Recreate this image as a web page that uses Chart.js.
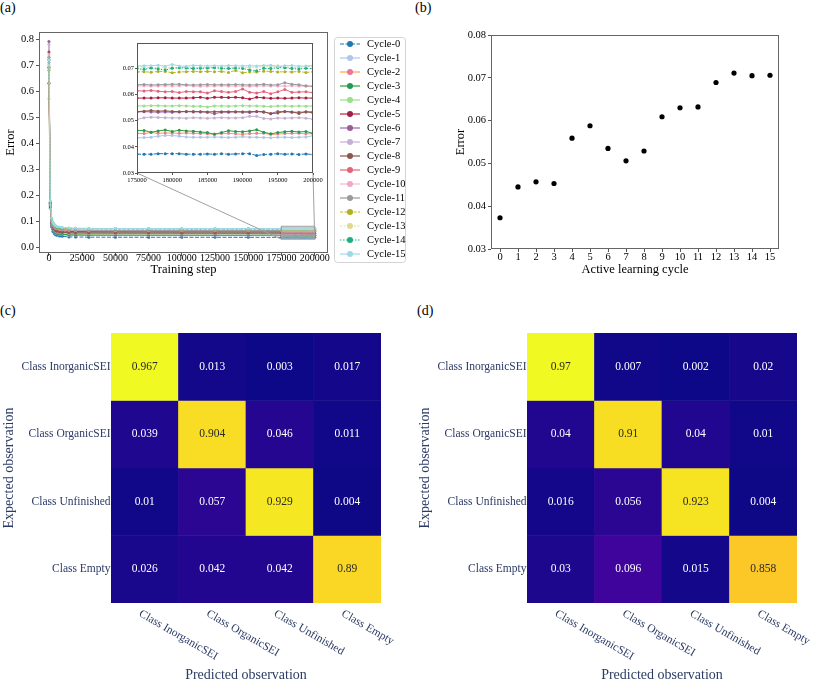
<!DOCTYPE html>
<html>
<head>
<meta charset="utf-8">
<script src="https://cdn.jsdelivr.net/npm/chart.js@4.4.1/dist/chart.umd.min.js"></script>
<style>
  html, body { margin: 0; padding: 0; background: #fff; overflow: hidden; }
  #fig { position: relative; width: 813px; height: 682px; overflow: hidden; }
  #fig canvas { position: absolute; }
  .tag { position: absolute; font-family: 'Liberation Serif', serif; font-size: 14px; line-height: 1; color: #000; }
</style>
</head>
<body>
<div id="fig">
  <div class="tag" style="left:0;top:1px">(a)</div>
  <div class="tag" style="left:415px;top:1px">(b)</div>
  <div class="tag" style="left:0;top:304px">(c)</div>
  <div class="tag" style="left:417px;top:304px">(d)</div>
  <canvas id="main" style="left:0;top:0" width="415" height="280"></canvas>
  <canvas id="inset" style="left:100px;top:36px" width="230" height="155"></canvas>
  <canvas id="cycles" style="left:415px;top:0" width="398" height="280"></canvas>
  <canvas id="cmC" style="left:0;top:290px" width="405" height="394"></canvas>
  <canvas id="cmD" style="left:405px;top:290px" width="408" height="394"></canvas>
</div>
<script>
Chart.defaults.font.family = "'Liberation Serif', 'DejaVu Serif', serif"
Chart.defaults.color = '#000000'

// ---- (a) training curves ----
const cycleNames = ['Cycle-0', 'Cycle-1', 'Cycle-2', 'Cycle-3', 'Cycle-4', 'Cycle-5', 'Cycle-6', 'Cycle-7',
    'Cycle-8', 'Cycle-9', 'Cycle-10', 'Cycle-11', 'Cycle-12', 'Cycle-13', 'Cycle-14', 'Cycle-15']

const earlySteps = [0, 1000, 2000, 3000, 4000, 5000, 6000, 8000, 10000, 15000, 20000, 30000, 50000, 75000, 100000, 125000, 150000]
const lateSteps = [175000, 176000, 177000, 178000, 179000, 180000, 181000, 182000, 183000, 184000, 185000, 186000, 187000,
    188000, 189000, 190000, 191000, 192000, 193000, 194000, 195000, 196000, 197000, 198000, 199000, 200000]

// error at earlySteps, one row per cycle
const earlyError = [
    [0.69, 0.150, 0.078, 0.060, 0.052, 0.047, 0.045, 0.042, 0.041, 0.039, 0.0385, 0.038, 0.0377, 0.0375, 0.0374, 0.0374, 0.0373],
    [0.70, 0.152, 0.084, 0.066, 0.058, 0.053, 0.051, 0.048, 0.047, 0.045, 0.0446, 0.0443, 0.0440, 0.0439, 0.0438, 0.0437, 0.0437],
    [0.72, 0.160, 0.086, 0.068, 0.060, 0.055, 0.052, 0.050, 0.048, 0.0466, 0.046, 0.0457, 0.0455, 0.0454, 0.0453, 0.0452, 0.0452],
    [0.73, 0.158, 0.086, 0.068, 0.060, 0.055, 0.053, 0.050, 0.049, 0.047, 0.0466, 0.0462, 0.0460, 0.0459, 0.0459, 0.0458, 0.0458],
    [0.57, 0.165, 0.095, 0.078, 0.070, 0.066, 0.063, 0.060, 0.059, 0.057, 0.0565, 0.0562, 0.0560, 0.0559, 0.0558, 0.0557, 0.0557],
    [0.63, 0.168, 0.098, 0.081, 0.073, 0.069, 0.066, 0.063, 0.062, 0.060, 0.0596, 0.0592, 0.0590, 0.0589, 0.0588, 0.0588, 0.0587],
    [0.79, 0.150, 0.092, 0.075, 0.068, 0.063, 0.060, 0.058, 0.056, 0.0545, 0.054, 0.0537, 0.0535, 0.0534, 0.0534, 0.0533, 0.0533],
    [0.78, 0.148, 0.090, 0.073, 0.065, 0.061, 0.058, 0.055, 0.054, 0.052, 0.0518, 0.0515, 0.0513, 0.0512, 0.0511, 0.0510, 0.0510],
    [0.75, 0.155, 0.092, 0.075, 0.068, 0.063, 0.061, 0.058, 0.056, 0.0548, 0.0543, 0.054, 0.0538, 0.0537, 0.0536, 0.0535, 0.0535],
    [0.69, 0.162, 0.100, 0.083, 0.076, 0.071, 0.069, 0.066, 0.065, 0.063, 0.0624, 0.062, 0.0617, 0.0615, 0.0614, 0.0613, 0.0613],
    [0.74, 0.165, 0.102, 0.085, 0.078, 0.073, 0.071, 0.068, 0.067, 0.065, 0.0645, 0.064, 0.0637, 0.0635, 0.0634, 0.0634, 0.0633],
    [0.71, 0.163, 0.103, 0.086, 0.079, 0.074, 0.071, 0.069, 0.067, 0.0655, 0.065, 0.0645, 0.0642, 0.064, 0.0639, 0.0638, 0.0638],
    [0.68, 0.170, 0.108, 0.091, 0.084, 0.079, 0.076, 0.074, 0.072, 0.0705, 0.070, 0.0695, 0.0691, 0.0689, 0.0688, 0.0688, 0.0687],
    [0.70, 0.175, 0.110, 0.093, 0.086, 0.081, 0.078, 0.076, 0.074, 0.0725, 0.072, 0.0714, 0.0710, 0.0708, 0.0707, 0.0706, 0.0706],
    [0.72, 0.172, 0.110, 0.092, 0.085, 0.080, 0.077, 0.075, 0.073, 0.0718, 0.0712, 0.0707, 0.0704, 0.0702, 0.0701, 0.0700, 0.0700],
    [0.72, 0.178, 0.112, 0.094, 0.087, 0.082, 0.079, 0.077, 0.075, 0.073, 0.0722, 0.0717, 0.0714, 0.0712, 0.0711, 0.0710, 0.0710]
]

// error at lateSteps (the zoomed window), one row per cycle
const lateError = [
    [0.0372, 0.0372, 0.0372, 0.0374, 0.0374, 0.0374, 0.0374, 0.0372, 0.0372, 0.0372, 0.0373, 0.0372, 0.0374, 0.0372, 0.0373, 0.0374, 0.0374, 0.0367, 0.0371, 0.0372, 0.0374, 0.0372, 0.0373, 0.0371, 0.0373, 0.0371],
    [0.0434, 0.0436, 0.0437, 0.0441, 0.0444, 0.0444, 0.0441, 0.0438, 0.0437, 0.0437, 0.0437, 0.0438, 0.0437, 0.0436, 0.0437, 0.0439, 0.0437, 0.0437, 0.0436, 0.0435, 0.0437, 0.0437, 0.0436, 0.0437, 0.0438, 0.0443],
    [0.0452, 0.0451, 0.0455, 0.0452, 0.0453, 0.0453, 0.0452, 0.0453, 0.0452, 0.0451, 0.0450, 0.0449, 0.0451, 0.0452, 0.0450, 0.0448, 0.0451, 0.0452, 0.0452, 0.0448, 0.0449, 0.0451, 0.0452, 0.0452, 0.0450, 0.0451],
    [0.0463, 0.0463, 0.0456, 0.0461, 0.0465, 0.0459, 0.0464, 0.0461, 0.0460, 0.0457, 0.0455, 0.0448, 0.0455, 0.0462, 0.0459, 0.0458, 0.0461, 0.0466, 0.0456, 0.0450, 0.0455, 0.0458, 0.0460, 0.0457, 0.0459, 0.0452],
    [0.0557, 0.0557, 0.0558, 0.0558, 0.0557, 0.0557, 0.0558, 0.0557, 0.0556, 0.0556, 0.0553, 0.0557, 0.0557, 0.0556, 0.0557, 0.0558, 0.0557, 0.0557, 0.0556, 0.0555, 0.0557, 0.0557, 0.0556, 0.0557, 0.0556, 0.0557],
    [0.0587, 0.0587, 0.0587, 0.0588, 0.0588, 0.0587, 0.0587, 0.0587, 0.0588, 0.0590, 0.0586, 0.0590, 0.0590, 0.0589, 0.0590, 0.0588, 0.0583, 0.0590, 0.0588, 0.0586, 0.0587, 0.0586, 0.0587, 0.0588, 0.0587, 0.0587],
    [0.0534, 0.0535, 0.0534, 0.0533, 0.0534, 0.0533, 0.0534, 0.0535, 0.0534, 0.0534, 0.0533, 0.0527, 0.0533, 0.0533, 0.0534, 0.0534, 0.0532, 0.0535, 0.0533, 0.0528, 0.0536, 0.0535, 0.0533, 0.0533, 0.0534, 0.0535],
    [0.0505, 0.0512, 0.0514, 0.0513, 0.0512, 0.0511, 0.0511, 0.0510, 0.0512, 0.0511, 0.0510, 0.0511, 0.0512, 0.0511, 0.0511, 0.0512, 0.0517, 0.0517, 0.0509, 0.0507, 0.0511, 0.0510, 0.0511, 0.0512, 0.0510, 0.0506],
    [0.0535, 0.0537, 0.0539, 0.0537, 0.0538, 0.0536, 0.0535, 0.0536, 0.0536, 0.0535, 0.0534, 0.0535, 0.0535, 0.0535, 0.0535, 0.0534, 0.0535, 0.0536, 0.0535, 0.0527, 0.0530, 0.0536, 0.0534, 0.0528, 0.0535, 0.0530],
    [0.0615, 0.0614, 0.0616, 0.0613, 0.0611, 0.0612, 0.0608, 0.0612, 0.0611, 0.0611, 0.0606, 0.0615, 0.0612, 0.0609, 0.0612, 0.0622, 0.0609, 0.0606, 0.0612, 0.0604, 0.0611, 0.0620, 0.0609, 0.0610, 0.0611, 0.0608],
    [0.0633, 0.0634, 0.0633, 0.0633, 0.0634, 0.0633, 0.0634, 0.0635, 0.0633, 0.0632, 0.0633, 0.0633, 0.0634, 0.0633, 0.0633, 0.0633, 0.0632, 0.0633, 0.0634, 0.0633, 0.0633, 0.0633, 0.0634, 0.0633, 0.0632, 0.0632],
    [0.0638, 0.0639, 0.0637, 0.0638, 0.0639, 0.0640, 0.0640, 0.0638, 0.0637, 0.0638, 0.0639, 0.0638, 0.0638, 0.0638, 0.0639, 0.0638, 0.0637, 0.0638, 0.0640, 0.0637, 0.0638, 0.0646, 0.0640, 0.0638, 0.0634, 0.0632],
    [0.0687, 0.0688, 0.0686, 0.0689, 0.0689, 0.0684, 0.0687, 0.0688, 0.0689, 0.0688, 0.0689, 0.0688, 0.0689, 0.0685, 0.0693, 0.0684, 0.0687, 0.0687, 0.0690, 0.0689, 0.0687, 0.0688, 0.0687, 0.0689, 0.0685, 0.0688],
    [0.0706, 0.0706, 0.0704, 0.0703, 0.0703, 0.0704, 0.0703, 0.0705, 0.0704, 0.0704, 0.0703, 0.0706, 0.0705, 0.0707, 0.0703, 0.0704, 0.0705, 0.0706, 0.0707, 0.0708, 0.0711, 0.0706, 0.0704, 0.0705, 0.0707, 0.0709],
    [0.0700, 0.0697, 0.0702, 0.0698, 0.0695, 0.0701, 0.0703, 0.0702, 0.0700, 0.0701, 0.0702, 0.0703, 0.0701, 0.0700, 0.0702, 0.0700, 0.0695, 0.0692, 0.0701, 0.0700, 0.0704, 0.0703, 0.0700, 0.0698, 0.0701, 0.0700],
    [0.0710, 0.0711, 0.0711, 0.0713, 0.0709, 0.0716, 0.0710, 0.0709, 0.0712, 0.0711, 0.0710, 0.0711, 0.0710, 0.0712, 0.0711, 0.0710, 0.0711, 0.0710, 0.0712, 0.0713, 0.0708, 0.0711, 0.0712, 0.0709, 0.0710, 0.0712]
]

const mainXTicks = [0, 25000, 50000, 75000, 100000, 125000, 150000, 175000, 200000]
const mainYTicks = [0, 0.1, 0.2, 0.3, 0.4, 0.5, 0.6, 0.7, 0.8]
const insetXTicks = [175000, 180000, 185000, 190000, 195000, 200000]
const insetYTicks = [0.03, 0.04, 0.05, 0.06, 0.07]

// ---- (b) error per active learning cycle ----
const cycleIndex = [0, 1, 2, 3, 4, 5, 6, 7, 8, 9, 10, 11, 12, 13, 14, 15]
const cycleError = [0.0373, 0.0445, 0.0457, 0.0453, 0.0559, 0.0588, 0.0535, 0.0506,
    0.0529, 0.0609, 0.0630, 0.0632, 0.0689, 0.0711, 0.0705, 0.0706]
const cycleYTicks = [0.03, 0.04, 0.05, 0.06, 0.07, 0.08]

// ---- (c), (d) confusion matrices ----
const classNames = ['Class InorganicSEI', 'Class OrganicSEI', 'Class Unfinished', 'Class Empty']
const confusionC = [
    [0.967, 0.013, 0.003, 0.017],
    [0.039, 0.904, 0.046, 0.011],
    [0.01, 0.057, 0.929, 0.004],
    [0.026, 0.042, 0.042, 0.89]
]
const confusionD = [
    [0.97, 0.007, 0.002, 0.02],
    [0.04, 0.91, 0.04, 0.01],
    [0.016, 0.056, 0.923, 0.004],
    [0.03, 0.096, 0.015, 0.858]
]

// styles
const lineColors = ['#1f77b4', '#aec7e8', '#ffa040', '#2ca02c', '#98df8a', '#c4213f', '#9467bd', '#c5b0d5',
    '#8c564b', '#e3647a', '#f7b6d2', '#9a9a9a', '#bcbd22', '#dbdb8d', '#1fae80', '#9edae5']
const markerColors = ['#1f77b4', '#aec7e8', '#e8779a', '#22985a', '#98df8a', '#a0204a', '#9a5d8f', '#c5b0d5',
    '#8c564b', '#e3647a', '#f0a8c8', '#9a9a9a', '#b0b020', '#dbdb8d', '#1fae80', '#9edae5']
const lineDashes = [[4, 1.5], [], [], [], [], [], [], [], [], [], [], [], [3, 1.5], [2, 1.5], [1.5, 1.5], []]
const navy = '#2b3b66'

const fixWidth = w => scale => { scale.width = w }
const fixHeight = h => scale => { scale.height = h }
const setTicks = list => scale => { scale.ticks = list.map(v => ({ value: v })) }

function framePlugin(color) {
    return {
        id: 'frame',
        afterDatasetsDraw(chart) {
            const { ctx, chartArea: a } = chart
            ctx.save()
            ctx.strokeStyle = color
            ctx.lineWidth = 1
            ctx.strokeRect(Math.round(a.left) + 0.5, Math.round(a.top) + 0.5,
                Math.round(a.right - a.left) - 1, Math.round(a.bottom - a.top) - 1)
            ctx.restore()
        }
    }
}

const whiteArea = {
    id: 'whiteArea',
    beforeDraw(chart) {
        const { ctx, chartArea: a } = chart
        ctx.save()
        ctx.fillStyle = '#ffffff'
        ctx.fillRect(a.left, a.top, a.right - a.left, a.bottom - a.top)
        ctx.restore()
    }
}

function cycleDatasets(steps, rows) {
    return cycleNames.map((name, i) => ({
        label: name,
        data: steps.map((s, k) => ({ x: s, y: rows[i][k] })),
        borderColor: lineColors[i],
        backgroundColor: markerColors[i],
        pointBackgroundColor: markerColors[i],
        pointBorderWidth: 0,
        pointRadius: 1.5,
        borderWidth: 1,
        borderDash: lineDashes[i],
        order: 16 - i
    }))
}

function axisStyle(extra) {
    return Object.assign({
        grid: { drawOnChartArea: false, tickLength: 3, color: '#555' },
        border: { display: false }
    }, extra)
}

// inset first, so the main chart can draw connector lines to it
const insetCanvas = document.getElementById('inset')
const insetChart = new Chart(insetCanvas, {
    type: 'line',
    data: { datasets: cycleDatasets(lateSteps, lateError) },
    options: {
        responsive: false, animation: false, devicePixelRatio: 1,
        layout: { padding: { left: 0, top: 7, right: 17, bottom: 0 } },
        plugins: { legend: { display: false }, tooltip: { enabled: false } },
        scales: {
            x: axisStyle({
                type: 'linear', min: 175000, max: 200000,
                afterBuildTicks: setTicks(insetXTicks), afterFit: fixHeight(18),
                grid: { drawOnChartArea: false, tickLength: 2, color: '#555' },
                ticks: { autoSkip: false, maxRotation: 0, padding: 1, font: { size: 6.5 }, callback: v => String(v) }
            }),
            y: axisStyle({
                min: 0.03, max: 0.0798,
                afterBuildTicks: setTicks(insetYTicks), afterFit: fixWidth(37),
                grid: { drawOnChartArea: false, tickLength: 2, color: '#555' },
                ticks: { padding: 1, font: { size: 6.5 }, callback: v => v.toFixed(2) }
            })
        }
    },
    plugins: [whiteArea, framePlugin('#555')]
})

const mainCanvas = document.getElementById('main')

const zoomMark = {
    id: 'zoomMark',
    afterDatasetsDraw(chart) {
        const { ctx } = chart
        const xs = chart.scales.x, ys = chart.scales.y
        const x0 = xs.getPixelForValue(lateSteps[0]), x1 = xs.getPixelForValue(lateSteps[lateSteps.length - 1])
        const y0 = ys.getPixelForValue(insetChart.scales.y.min), y1 = ys.getPixelForValue(insetChart.scales.y.max)
        const ia = insetChart.chartArea
        const ox = insetCanvas.offsetLeft - mainCanvas.offsetLeft
        const oy = insetCanvas.offsetTop - mainCanvas.offsetTop
        ctx.save()
        ctx.fillStyle = 'rgba(205,210,215,0.4)'
        ctx.fillRect(x0, y1, x1 - x0, y0 - y1)
        ctx.strokeStyle = '#a0a0a0'
        ctx.lineWidth = 1
        ctx.strokeRect(x0, y1, x1 - x0, y0 - y1)
        ctx.beginPath()
        ctx.moveTo(ox + ia.left, oy + ia.bottom)
        ctx.lineTo(x0, y0)
        ctx.moveTo(ox + ia.right, oy + ia.bottom)
        ctx.lineTo(x1, y0)
        ctx.stroke()
        ctx.restore()
    }
}

const cycleLegend = {
    id: 'cycleLegend',
    afterDraw(chart) {
        const { ctx, chartArea: a } = chart
        const rowH = 14
        const bx = a.right + 6, by = a.top + 5, bw = 71, bh = 7 + 15 * rowH + 8
        ctx.save()
        ctx.beginPath()
        ctx.roundRect(bx + 0.5, by + 0.5, bw, bh, 3)
        ctx.fillStyle = '#ffffff'
        ctx.fill()
        ctx.strokeStyle = '#d4d4d4'
        ctx.lineWidth = 1
        ctx.stroke()
        chart.data.datasets.forEach((ds, i) => {
            const cy = by + 7 + i * rowH
            ctx.strokeStyle = ds.borderColor
            ctx.lineWidth = 1.2
            ctx.setLineDash(ds.borderDash)
            ctx.beginPath()
            ctx.moveTo(bx + 6, cy)
            ctx.lineTo(bx + 26, cy)
            ctx.stroke()
            ctx.setLineDash([])
            ctx.fillStyle = ds.pointBackgroundColor
            ctx.beginPath()
            ctx.arc(bx + 16, cy, 3, 0, Math.PI * 2)
            ctx.fill()
            ctx.fillStyle = '#000'
            ctx.font = "10.5px 'Liberation Serif', serif"
            ctx.textBaseline = 'middle'
            ctx.textAlign = 'left'
            ctx.fillText(ds.label, bx + 33, cy)
        })
        ctx.restore()
    }
}

new Chart(mainCanvas, {
    type: 'line',
    data: { datasets: cycleDatasets(earlySteps.concat(lateSteps), earlyError.map((row, i) => row.concat(lateError[i]))) },
    options: {
        responsive: false, animation: false, devicePixelRatio: 1,
        layout: { padding: { left: 0, top: 32, right: 87, bottom: 0 } },
        plugins: { legend: { display: false }, tooltip: { enabled: false } },
        scales: {
            x: axisStyle({
                type: 'linear', min: -7500, max: 210000,
                afterBuildTicks: setTicks(mainXTicks), afterFit: fixHeight(27),
                ticks: { autoSkip: false, maxRotation: 0, padding: -4, font: { size: 10 }, callback: v => String(v) },
                title: { display: true, text: 'Training step', font: { size: 12.5 }, padding: { top: 0, bottom: 3 } }
            }),
            y: axisStyle({
                min: -0.023, max: 0.827,
                afterBuildTicks: setTicks(mainYTicks), afterFit: fixWidth(39),
                ticks: { padding: 2, font: { size: 10.5 }, callback: v => v.toFixed(1) },
                title: { display: true, text: 'Error', font: { size: 12.5 }, padding: { top: 3, bottom: 0 } }
            })
        }
    },
    plugins: [framePlugin('#666'), zoomMark, cycleLegend]
})

// (b)
new Chart(document.getElementById('cycles'), {
    type: 'scatter',
    data: {
        datasets: [{
            label: 'Error',
            data: cycleIndex.map((c, i) => ({ x: c, y: cycleError[i] })),
            pointRadius: 2.6,
            pointBorderWidth: 0,
            backgroundColor: '#000',
            borderColor: '#000'
        }]
    },
    options: {
        responsive: false, animation: false, devicePixelRatio: 1,
        layout: { padding: { left: 38, top: 35, right: 34, bottom: 0 } },
        plugins: { legend: { display: false }, tooltip: { enabled: false } },
        scales: {
            x: axisStyle({
                type: 'linear', min: -0.5, max: 15.5,
                afterBuildTicks: setTicks(cycleIndex), afterFit: fixHeight(31),
                ticks: { autoSkip: false, maxRotation: 0, padding: -1, font: { size: 10.5 }, callback: v => String(v) },
                title: { display: true, text: 'Active learning cycle', font: { size: 12.5 }, padding: { top: 0, bottom: 3 } }
            }),
            y: axisStyle({
                min: 0.03, max: 0.08,
                afterBuildTicks: setTicks(cycleYTicks), afterFit: fixWidth(38),
                ticks: { padding: 2, font: { size: 10.5 }, callback: v => v.toFixed(2) },
                title: { display: true, text: 'Error', font: { size: 12.5 }, padding: { top: 0, bottom: 0 } }
            })
        }
    },
    plugins: [framePlugin('#666')]
})

// (c), (d)
const plasmaStops = ['#0d0887', '#41049d', '#6a00a8', '#8f0da4', '#b12a90', '#cc4778',
    '#e16462', '#f2844b', '#fca636', '#fcce25', '#f0f921']

function plasma(t) {
    t = Math.min(1, Math.max(0, t))
    const f = t * (plasmaStops.length - 1)
    const i = Math.min(plasmaStops.length - 2, Math.floor(f))
    const u = f - i
    const a = parseInt(plasmaStops[i].slice(1), 16), b = parseInt(plasmaStops[i + 1].slice(1), 16)
    const ch = s => Math.round(((a >> s) & 255) * (1 - u) + ((b >> s) & 255) * u)
    return `rgb(${ch(16)},${ch(8)},${ch(0)})`
}

const cellText = {
    id: 'cellText',
    afterDatasetsDraw(chart) {
        const { ctx } = chart
        ctx.save()
        ctx.font = "11.5px 'Liberation Serif', serif"
        ctx.textAlign = 'center'
        ctx.textBaseline = 'middle'
        chart.data.datasets.forEach((ds, r) => {
            chart.getDatasetMeta(r).data.forEach((bar, c) => {
                const { x, y, base } = bar.getProps(['x', 'y', 'base'], true)
                ctx.fillStyle = ds.norm[c] > 0.5 ? '#2a2a2a' : '#ffffff'
                ctx.fillText(String(ds.cells[c]), x, (y + base) / 2)
            })
        })
        ctx.restore()
    }
}

const slantedLabels = {
    id: 'slantedLabels',
    afterDraw(chart) {
        const { ctx, chartArea: a } = chart
        const xs = chart.scales.x
        ctx.save()
        ctx.font = "11.5px 'Liberation Serif', serif"
        ctx.fillStyle = navy
        ctx.textAlign = 'left'
        ctx.textBaseline = 'top'
        chart.data.labels.forEach((name, c) => {
            ctx.save()
            ctx.translate(xs.getPixelForValue(c) - 2, a.bottom + 5)
            ctx.rotate(Math.PI / 6)
            ctx.fillText(name, 0, 0)
            ctx.restore()
        })
        ctx.restore()
    }
}

function confusionChart(id, matrix, padLeft, padRight) {
    const flat = matrix.flat()
    const lo = Math.min(...flat), hi = Math.max(...flat)
    return new Chart(document.getElementById(id), {
        type: 'bar',
        data: {
            labels: classNames,
            datasets: matrix.map((row, r) => ({
                label: classNames[r],
                data: row.map(() => [r, r + 1]),
                cells: row,
                norm: row.map(v => (v - lo) / (hi - lo)),
                backgroundColor: row.map(v => plasma((v - lo) / (hi - lo))),
                borderWidth: 0,
                grouped: false,
                barPercentage: 1,
                categoryPercentage: 1
            }))
        },
        options: {
            responsive: false, animation: false, devicePixelRatio: 1,
            layout: { padding: { left: padLeft, top: 43, right: padRight, bottom: 0 } },
            plugins: { legend: { display: false }, tooltip: { enabled: false } },
            scales: {
                x: {
                    afterFit: fixHeight(81),
                    grid: { display: false, drawTicks: false },
                    border: { display: false },
                    ticks: { display: false },
                    title: { display: true, text: 'Predicted observation', color: navy, font: { size: 14 }, padding: 0 }
                },
                y: {
                    type: 'linear', min: 0, max: 4, reverse: true,
                    afterBuildTicks: setTicks([0.5, 1.5, 2.5, 3.5]), afterFit: fixWidth(111),
                    grid: { display: false, drawTicks: false },
                    border: { display: false },
                    ticks: { padding: 0.5, color: navy, font: { size: 11.5 }, callback: v => classNames[Math.floor(v)] },
                    title: { display: true, text: 'Expected observation', color: navy, font: { size: 14 }, padding: { top: 1, bottom: 0 } }
                }
            }
        },
        plugins: [cellText, slantedLabels]
    })
}

confusionChart('cmC', confusionC, 0, 24)
confusionChart('cmD', confusionD, 11, 16)
</script>
</body>
</html>
